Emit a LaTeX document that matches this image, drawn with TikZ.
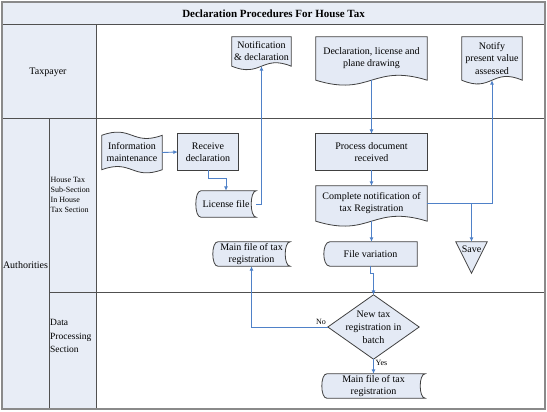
\documentclass[tikz,border=0pt]{standalone}
\usepackage{fontspec}
\setmainfont{Liberation Serif}
\usetikzlibrary{arrows.meta,backgrounds}
\definecolor{hdrfill}{HTML}{E8EDF6}
\definecolor{nodefill}{HTML}{E4EAF5}
\definecolor{shpborder}{HTML}{404040}
\definecolor{laneline}{HTML}{505050}
\definecolor{outerline}{HTML}{8A8A8A}
\definecolor{connblue}{HTML}{4F81C8}
% document shape: name, half width, wave control
\newcommand{\docshape}[3]{\draw[shp] (#1.south west) -- (#1.north west) -- (#1.north east) -- (#1.south east) .. controls +(-#2,-#3) and +(#2,#3) .. (#1.south west) -- cycle;}
% punched tape: name, half width, wave control
\newcommand{\tapeshape}[3]{\draw[shp] (#1.north west) .. controls +(#2,#3) and +(-#2,-#3) .. (#1.north east) -- (#1.south east) .. controls +(-#2,-#3) and +(#2,#3) .. (#1.south west) -- cycle;}
% stored data: name, curve depth
\newcommand{\storeshape}[2]{\draw[shp] ([xshift=#2pt]#1.north west) -- (#1.north east) .. controls +(-1.33*#2,0) and +(-1.33*#2,0) .. (#1.south east) -- ([xshift=#2pt]#1.south west) .. controls +(-1.33*#2,0) and +(-1.33*#2,0) .. ([xshift=#2pt]#1.north west) -- cycle;}
% stored data with straight right side
\newcommand{\halfstoreshape}[2]{\draw[shp] ([xshift=#2pt]#1.north west) -- (#1.north east) -- (#1.south east) -- ([xshift=#2pt]#1.south west) .. controls +(-1.33*#2,0) and +(-1.33*#2,0) .. ([xshift=#2pt]#1.north west) -- cycle;}
\tikzset{
  shp/.style={draw=shpborder, fill=nodefill, line width=0.8pt},
  conn/.style={draw=connblue, line width=0.9pt, -{Latex[length=4.5pt,width=4pt]}},
  txt/.style={font=\fontsize{10}{12}\selectfont, align=center, inner sep=0pt, text=black},
  lbl/.style={font=\fontsize{8}{10}\selectfont, inner sep=0pt, text=black},
  lanetxt/.style={font=\fontsize{10}{12}\selectfont, inner sep=0pt, text=black, align=center},
  lanebar/.style={draw=laneline, line width=1pt}
}
\begin{document}
\begin{tikzpicture}[x=1pt,y=-1pt]
\useasboundingbox (0,0) rectangle (547,412);

% ---------- nodes ----------
\node[font=\bfseries\fontsize{11}{13}\selectfont, inner sep=0pt] (title) at (273.5,13.5) {Declaration Procedures For House Tax};
\node[lanetxt] (taxpayer) at (48,72) {Taxpayer};
\node[lanetxt] (authorities) at (25.5,265) {Authorities};
\node[lanetxt, font=\fontsize{8}{10}\selectfont, align=left, anchor=west] (housetax) at (50.5,195) {House Tax\\Sub-Section\\In House\\Tax Section};
\node[lanetxt, font=\fontsize{9.5}{13.5}\selectfont, align=left, anchor=west] (dataproc) at (50,336) {Data\\Processing\\Section};

\node[txt, minimum width=59pt, minimum height=29pt] (notif) at (261.5,51.5) {Notification\\\& declaration};
\node[txt, minimum width=111pt, minimum height=43pt] (decl) at (371.5,58.5) {Declaration, license and\\plane drawing};
\node[txt, minimum width=60pt, minimum height=43pt, font=\fontsize{10}{12.5}\selectfont] (notify) at (492,58.5) {Notify\\present value\\assessed};

\node[txt, minimum width=60pt, minimum height=34pt] (info) at (132,152.5) {Information\\maintenance};
\node[txt, minimum width=60pt, minimum height=36pt] (recv) at (208,152) {Receive\\declaration};
\node[txt, minimum width=60pt, minimum height=26pt] (lic) at (226,204) {License file};
\node[txt, minimum width=111pt, minimum height=36pt] (proc) at (371.5,152) {Process document\\received};
\node[txt, minimum width=111pt, minimum height=35pt] (cnot) at (371.5,203.5) {Complete notification of\\tax Registration};
\node[txt, minimum width=77pt, minimum height=24pt, font=\fontsize{10}{11.5}\selectfont] (mf1) at (251.5,254) {Main file of tax\\registration};
\node[txt, minimum width=93pt, minimum height=24pt] (fvar) at (370.5,254) {File variation};
\node[txt, minimum width=31pt, minimum height=31pt] (save) at (471.5,257.5) {};
\node[txt] (savetxt) at (471.5,249.5) {Save};
\node[txt, minimum width=91pt, minimum height=64pt, font=\fontsize{10}{13}\selectfont] (dia) at (373.5,327) {New tax\\registration in\\batch};
\node[txt, minimum width=103pt, minimum height=24pt, font=\fontsize{10}{11.5}\selectfont] (mf2) at (373.5,386) {Main file of tax\\registration};

% ---------- background: lanes and shapes ----------
\begin{scope}[on background layer]
  \fill[hdrfill] (2,2) rectangle (545,25);
  \fill[hdrfill] (2,25) rectangle (96,409);
  \draw[lanebar] (2,25) -- (545,25);
  \draw[lanebar] (2,119) -- (545,119);
  \draw[lanebar] (49,292) -- (545,292);
  \draw[lanebar] (96,25) -- (96,409);
  \draw[lanebar] (49,119) -- (49,409);
  \draw[outerline, line width=1.3pt] (2,2) rectangle (545,409);

  \docshape{notif}{29}{12}
  \docshape{decl}{55}{17}
  \docshape{notify}{30}{13}
  \docshape{cnot}{55}{17}
  \tapeshape{info}{30}{-11}
  \draw[shp] (recv.north west) rectangle (recv.south east);
  \draw[shp] (proc.north west) rectangle (proc.south east);
  \storeshape{lic}{5}
  \storeshape{mf1}{5}
  \storeshape{mf2}{5}
  \halfstoreshape{fvar}{6}
  \draw[shp] (save.north west) -- (save.north east) -- (save.south) -- cycle;
  \draw[shp] (dia.north) -- (dia.east) -- (dia.south) -- (dia.west) -- cycle;
\end{scope}

% ---------- connectors ----------
\draw[conn] (decl.south) -- (proc.north);
\draw[conn] (proc.south) -- (cnot.north);
\draw[conn] (cnot.south) -- (cnot.south |- fvar.north);
\draw[conn] (cnot.east) -| (notify.south);
\draw[conn] (save.north |- cnot.east) -- (save.north);
\draw[conn] (fvar.south) -- ++(0,7) -| (dia.north);
\draw[conn] (dia.west) -| (mf1.south);
\draw[conn] (dia.south) -- (mf2.north);
\draw[conn] (info.east) -- (recv.west);
\draw[conn] (recv.south) -- ++(0,8) -| (lic.north);
\draw[conn] (lic.east) -| (notif.south);

\node[lbl] (nolbl) at (321,322) {No};
\node[lbl] (yeslbl) at (381.5,363) {Yes};
\end{tikzpicture}
\end{document}
